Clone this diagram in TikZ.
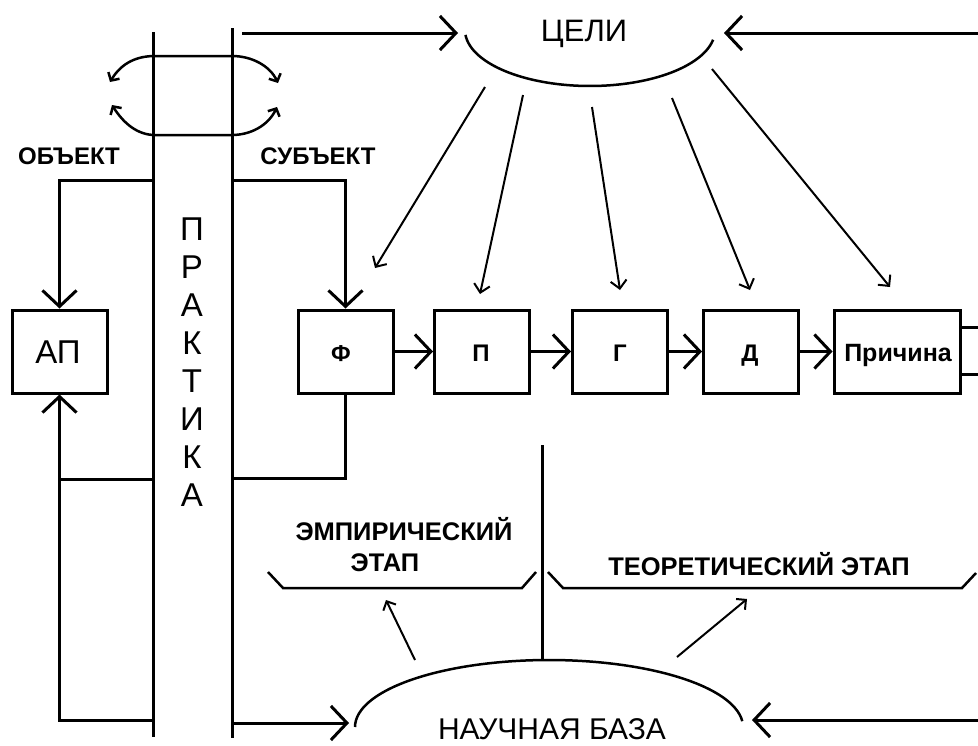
\documentclass[tikz,border=0pt]{standalone}
\usepackage{fontspec}
\setmainfont{Liberation Sans}
\usetikzlibrary{arrows.meta}
\begin{document}
\begin{tikzpicture}[x=1pt,y=-1pt,
  thickline/.style={line width=3pt},
  thinline/.style={line width=2pt},
  bigarrow/.style={line width=3pt,-{Straight Barb[length=16pt,width=34pt]}},
  rayarrow/.style={line width=2pt,-{Straight Barb[length=8pt,width=16pt]}},
  smallarrow/.style={line width=2pt,-{Straight Barb[length=7pt,width=14pt]}},
  looparrow/.style={line width=2.5pt,{Straight Barb[length=6pt,width=13pt]}-{Straight Barb[length=6pt,width=13pt]}},
  box/.style={draw,line width=3pt,minimum width=95pt,minimum height=83pt,inner sep=0pt},
  lbl/.style={font=\fontsize{24}{24}\selectfont\bfseries,inner sep=0pt,anchor=base},
  lblbig/.style={font=\fontsize{25.5}{25.5}\selectfont\bfseries,inner sep=0pt,anchor=base},
  big/.style={font=\fontsize{31}{31}\selectfont,inner sep=0pt,anchor=base}
]
\useasboundingbox (0,0) rectangle (978,745);

% column of ПРАКТИКА
\coordinate (cl1) at (153,32);
\coordinate (cl2) at (153,737);
\coordinate (cr1) at (232,28);
\coordinate (cr2) at (232,738);
\draw[thickline] (cl1) -- (cl2);
\draw[thickline] (cr1) -- (cr2);
\foreach \l [count=\i] in {П,Р,А,К,Т,И,К,А}
  \node[font=\fontsize{33}{33}\selectfont,inner sep=0pt,anchor=base] (prak\i) at (192,{240+38.1*(\i-1)}) {\l};

% loop arrows at the top of the column
\coordinate (lu1) at (110,82);
\coordinate (lu2) at (278,83);
\coordinate (ld1) at (112,105);
\coordinate (ld2) at (277,107);
\draw[looparrow] (lu1) .. controls (122,62) and (138,56) .. (155,56) -- (232,56) .. controls (252,56) and (270,66) .. (lu2);
\draw[looparrow] (ld1) .. controls (124,124) and (138,135) .. (155,135) -- (232,135) .. controls (250,135) and (268,126) .. (ld2);

% labels
\node[lbl] (obj) at (69,164) {ОБЪЕКТ};
\node[lbl] (subj) at (318,164) {СУБЪЕКТ};

% boxes
\node[box] (ap) at (59.5,351.5) {};
\node[big,font=\fontsize{33}{33}\selectfont] (aptext) at (58,363) {АП};
\node[box] (f) at (345.5,351.5) {};
\node[lbl,font=\fontsize{23}{23}\selectfont\bfseries] (ftext) at (341,361) {Ф};
\node[box] (p) at (482,351.5) {};
\node[lbl] (ptext) at (481,361) {П};
\node[box] (g) at (620,351.5) {};
\node[lbl] (gtext) at (620,361) {Г};
\node[box] (d) at (751,351.5) {};
\node[lbl] (dtext) at (750,361) {Д};
\node[box,minimum width=126pt] (pr) at (897,351.5) {};
\node[lbl,font=\fontsize{25}{25}\selectfont\bfseries] (prtext) at (898,361) {Причина};

% chain arrows
\draw[bigarrow] (f.east) -- (p.west);
\draw[bigarrow] (p.east) -- (g.west);
\draw[bigarrow] (g.east) -- (d.west);
\draw[bigarrow] (d.east) -- (pr.west);
\coordinate (rs1) at (978,327);
\coordinate (rs2) at (978,374);
\draw[thickline] (rs1 -| pr.east) -- (rs1);
\draw[thickline] (rs2 -| pr.east) -- (rs2);

% ОБЪЕКТ / СУБЪЕКТ connections
\coordinate (oj) at (153,180);
\coordinate (sj) at (232,180);
\draw[bigarrow] (oj) -| (ap.north);
\draw[bigarrow] (sj) -| (f.north);
\coordinate (lj) at (153,479);
\coordinate (lb) at (153,720);
\draw[bigarrow] (lb) -| (ap.south);
\draw[thickline] (lj) -- (lj -| ap.south);
\coordinate (rj) at (232,478);
\draw[thickline] (f.south) |- (rj);

% ЦЕЛИ
\node[big] (celi) at (584,41) {ЦЕЛИ};
\draw[line width=2.5pt] plot[domain=10:175,samples=60,smooth] ({590+125*cos(\x)},{30+56*sin(\x)});
\coordinate (tl) at (242,33);
\coordinate (tlend) at (458,33);
\coordinate (tr) at (978,33);
\coordinate (trend) at (724,33);
\draw[bigarrow] (tl) -- (tlend);
\draw[bigarrow] (tr) -- (trend);

% rays
\coordinate (r1s) at (485,87);  \coordinate (r1e) at (375,268);
\coordinate (r2s) at (523,95);  \coordinate (r2e) at (480,294);
\coordinate (r3s) at (592,107); \coordinate (r3e) at (620,290);
\coordinate (r4s) at (672,98);  \coordinate (r4e) at (750,290);
\coordinate (r5s) at (712,69);  \coordinate (r5e) at (890,287);
\draw[rayarrow] (r1s) -- (r1e);
\draw[rayarrow] (r2s) -- (r2e);
\draw[rayarrow] (r3s) -- (r3e);
\draw[rayarrow] (r4s) -- (r4e);
\draw[rayarrow] (r5s) -- (r5e);

% stages
\node[lblbig] (emp1) at (404,540) {ЭМПИРИЧЕСКИЙ};
\node[lblbig] (emp2) at (385,571) {ЭТАП};
\node[lblbig] (teo) at (759,575) {ТЕОРЕТИЧЕСКИЙ ЭТАП};
\draw[line width=2.5pt] (268,572) -- (283,588) -- (522,588) -- (536,572);
\draw[line width=2.5pt] (548,572) -- (563,588) -- (962,588) -- (976,573);
\coordinate (vtop) at (542,445);
\coordinate (vbot) at (542,660);
\draw[thickline] (vtop) -- (vbot);

% НАУЧНАЯ БАЗА
\draw[line width=2.5pt] plot[domain=5:180,samples=60,smooth] ({549+194*cos(\x)},{727-67*sin(\x)});
\node[big,font=\fontsize{30}{30}\selectfont] (nb) at (552,739) {НАУЧНАЯ БАЗА};
\coordinate (bl) at (232,723);
\coordinate (blend) at (349,723);
\coordinate (br) at (978,720);
\coordinate (brend) at (752,720);
\draw[bigarrow] (bl) -- (blend);
\draw[bigarrow] (br) -- (brend);
\coordinate (a1s) at (415,660); \coordinate (a1e) at (386,600);
\coordinate (a2s) at (677,657); \coordinate (a2e) at (747,599);
\draw[smallarrow] (a1s) -- (a1e);
\draw[smallarrow] (a2s) -- (a2e);
\end{tikzpicture}
\end{document}
